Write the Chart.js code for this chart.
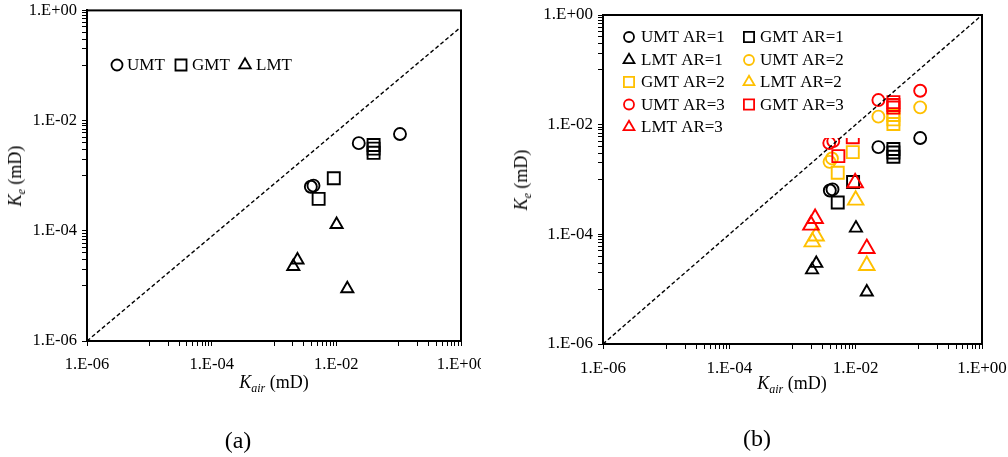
<!DOCTYPE html>
<html><head><meta charset="utf-8">
<script src="https://cdn.jsdelivr.net/npm/chart.js@4.4.1/dist/chart.umd.min.js"></script>
<style>
html,body{margin:0;padding:0;background:#fff;width:1008px;height:457px;overflow:hidden;}
#wrap{position:relative;width:1008px;height:457px;font-family:"Liberation Serif","Times New Roman",serif;color:#000;}
canvas{position:absolute;top:0;}
#ca{left:0;} #cb{left:500px;}
.t{position:absolute;white-space:nowrap;font-size:18px;line-height:1;transform:translate(-50%,-50%);z-index:2;}
.ty{transform:translate(-50%,-50%) rotate(-90deg);}
.t i{font-style:italic;}
.t sub{font-size:12px;font-style:italic;vertical-align:-4px;line-height:0;}
.cap{font-size:24px;}
</style></head>
<body><div id="wrap">
<canvas id="ca" width="481" height="457"></canvas>
<canvas id="cb" width="508" height="457"></canvas>
<div class="t ty" style="left:15px;top:176px;"><i>K</i><sub>e</sub> (mD)</div>
<div class="t" style="left:274px;top:382px;"><i>K</i><sub>air</sub> (mD)</div>
<div class="t cap" style="left:238px;top:440px;">(a)</div>
<div class="t ty" style="left:521px;top:180px;"><i>K</i><sub>e</sub> (mD)</div>
<div class="t" style="left:792px;top:383px;"><i>K</i><sub>air</sub> (mD)</div>
<div class="t cap" style="left:757px;top:438px;">(b)</div>
</div>
<script>
// ---------- data (x = K_air, y = K_e, mD) ----------
const umtAR1 = [[0.0039,0.00063],[0.0043,0.00066],[0.0229,0.0039],[0.105,0.0057]];
const gmtAR1 = [[0.0091,0.00090],[0.0052,0.00038],[0.0396,0.0036],[0.0396,0.0031],[0.0396,0.0026]];
const lmtAR1 = [[0.0101,0.00013],[0.00238,0.0000295],[0.00204,0.0000225],[0.0150,0.0000089]];
const umtAR2 = [[0.00386,0.00210],[0.00421,0.00242],[0.0229,0.0140],[0.105,0.0207]];
const gmtAR2 = [[0.0090,0.00316],[0.0052,0.00133],[0.0396,0.0150],[0.0396,0.0125],[0.0396,0.0103]];
const lmtAR2 = [[0.0100,0.00042],[0.00236,0.000093],[0.00206,0.000073],[0.0150,0.000027]];
const umtAR3 = [[0.00382,0.00462],[0.00442,0.00502],[0.0229,0.0281],[0.105,0.0416]];
const gmtAR3 = [[0.00532,0.00267],[0.0090,0.0059],[0.0396,0.0258],[0.0396,0.0228],[0.0396,0.0205]];
const lmtAR3 = [[0.0098,0.00087],[0.00228,0.000195],[0.00196,0.000147],[0.0150,0.000055]];
const refLineA = [[1e-6,1e-6],[1,0.5]];
const refLineB = [[1e-6,1e-6],[1,1]];
const tickValues = [1e-6,1e-4,1e-2,1];
const tickLabels = ['1.E-06','1.E-04','1.E-02','1.E+00'];

const FONT = '"Liberation Serif","Times New Roman",serif';
const BLACK='#000000', GOLD='#FFC000', RED='#FF0000';
const pts = a => a.map(p => ({x:p[0], y:p[1]}));

function buildTicks(scale){
  const t=[];
  tickValues.forEach((v,i)=>{
    t.push({value:v, major:true});
    if(i<tickValues.length-1){ for(let m=1;m<=9;m++) t.push({value:m*v*10}); }
  });
  scale.ticks=t;
}
function fmt(value){
  const i = tickValues.findIndex(v=>Math.abs(Math.log10(v)-Math.log10(value))<1e-6);
  return i>=0 ? tickLabels[i] : '';
}
function scales(fs, yW, xH){
  const common = {
    type:'logarithmic', min:1e-6, max:1,
    border:{display:true,color:'#000',width:2},
    grid:{display:true,drawOnChartArea:false,drawTicks:true,tickLength:5,color:'#000',lineWidth:1},
    afterBuildTicks: buildTicks,
  };
  return {
    x: Object.assign({}, common, {position:'bottom',
      ticks:{autoSkip:false,maxRotation:0,minRotation:0,padding:9,color:'#000',font:{family:FONT,size:fs},callback:fmt},
      afterFit:s=>{s.height=xH;s.paddingLeft=0;s.paddingRight=0;s.paddingTop=0;s.paddingBottom=0;}}),
    y: Object.assign({}, common, {position:'left',
      ticks:{autoSkip:false,padding:5,color:'#000',font:{family:FONT,size:fs},callback:fmt},
      afterFit:s=>{s.width=yW;s.paddingLeft=0;s.paddingRight=0;s.paddingTop=0;s.paddingBottom=0;}})
  };
}
function sc(label,data,style,color,r,order){
  return {type:'scatter',label,data:pts(data),pointStyle:style,pointRadius:r,pointHoverRadius:r,
    borderColor:color,pointBorderColor:color,backgroundColor:'rgba(0,0,0,0)',pointBackgroundColor:'rgba(0,0,0,0)',
    pointBorderWidth:1.9,borderWidth:1.9,showLine:false,order};
}
function line(data){
  return {type:'line',label:'1:1',data:pts(data),borderColor:'#000',borderWidth:1.4,borderDash:[4,2.5],
    pointRadius:0,fill:false,tension:0,order:0,isRefLine:true};
}
function drawMarker(ctx,style,x,y,r,color,lw){
  ctx.save();ctx.strokeStyle=color;ctx.lineWidth=lw;ctx.beginPath();
  if(style==='circle'){ctx.arc(x,y,r,0,Math.PI*2);}
  else if(style==='rect'){const s=r*Math.SQRT1_2;ctx.rect(x-s,y-s,2*s,2*s);}
  else if(style==='triangle'){let a=0;ctx.moveTo(x+Math.sin(a)*r,y-Math.cos(a)*r);a+=2*Math.PI/3;
    ctx.lineTo(x+Math.sin(a)*r,y-Math.cos(a)*r);a+=2*Math.PI/3;ctx.lineTo(x+Math.sin(a)*r,y-Math.cos(a)*r);ctx.closePath();}
  ctx.stroke();ctx.restore();
}
function legendPlugin(items, box, lr){
  return {id:'customLegend',
    beforeDatasetDraw(chart,args){
      const ds=chart.data.datasets[args.index];
      if(!ds.isRefLine) return;
      const ctx=chart.ctx; ctx.save();
      if(box){ctx.fillStyle='#fff';ctx.fillRect(box.x,box.y,box.w,box.h);}
      items.forEach(it=>{
        const d=chart.data.datasets[it.ds];
        drawMarker(ctx,d.pointStyle,it.mx,it.y,lr[d.pointStyle],d.borderColor,1.8);
        ctx.fillStyle='#000';ctx.font='17px '+FONT;ctx.textBaseline='middle';ctx.textAlign='left';
        ctx.fillText(d.label,it.tx,it.y+1);
      });
      ctx.restore();
    }};
}
const frame = {id:'frame',afterDraw(chart){const a=chart.chartArea,ctx=chart.ctx;ctx.save();
  ctx.strokeStyle='#000';ctx.lineWidth=2;ctx.strokeRect(a.left,a.top,a.right-a.left,a.bottom-a.top);ctx.restore();}};

const baseOpts = (fs,yW,xH,pad)=>({responsive:false,animation:false,devicePixelRatio:1,
  layout:{padding:pad},
  plugins:{legend:{display:false},tooltip:{enabled:false}},
  scales:scales(fs,yW,xH)});

// ---------- chart (a) ----------
new Chart(document.getElementById('ca'),{
  type:'scatter',
  data:{datasets:[
    sc('UMT',umtAR1,'circle',BLACK,6,3),
    sc('GMT',gmtAR1,'rect',BLACK,8.5,3),
    sc('LMT',lmtAR1,'triangle',BLACK,7,3),
    line(refLineA)
  ]},
  options:baseOpts(16.5,87,30,{left:0,right:20,top:10,bottom:86}),
  plugins:[legendPlugin([
    {ds:0,mx:117,tx:127,y:65},{ds:1,mx:181,tx:192,y:65},{ds:2,mx:245,tx:256,y:65}
  ],null,{circle:5.5,rect:7.8,triangle:6.7}),frame]
});

// ---------- chart (b) ----------
new Chart(document.getElementById('cb'),{
  type:'scatter',
  data:{datasets:[
    sc('UMT AR=1',umtAR1,'circle',BLACK,6,3),
    sc('GMT AR=1',gmtAR1,'rect',BLACK,8.5,3),
    sc('LMT AR=1',lmtAR1,'triangle',BLACK,7,3),
    sc('UMT AR=2',umtAR2,'circle',GOLD,6,2),
    sc('GMT AR=2',gmtAR2,'rect',GOLD,8.5,2),
    sc('LMT AR=2',lmtAR2,'triangle',GOLD,9,2),
    sc('UMT AR=3',umtAR3,'circle',RED,6,1),
    sc('GMT AR=3',gmtAR3,'rect',RED,8.5,1),
    sc('LMT AR=3',lmtAR3,'triangle',RED,9,1),
    line(refLineB)
  ]},
  options:baseOpts(17,103,30,{left:0,right:26,top:15,bottom:83}),
  plugins:[legendPlugin([
    {ds:0,mx:129,tx:141,y:37},{ds:1,mx:249,tx:260,y:37},
    {ds:2,mx:129,tx:141,y:60},{ds:3,mx:249,tx:260,y:60},
    {ds:4,mx:129,tx:141,y:82},{ds:5,mx:249,tx:260,y:82},
    {ds:6,mx:129,tx:141,y:104.5},{ds:7,mx:249,tx:260,y:104.5},
    {ds:8,mx:129,tx:141,y:127}
  ],{x:115,y:20,w:250,h:118},{circle:5,rect:7.2,triangle:6.3}),frame]
});
</script>
</body></html>
